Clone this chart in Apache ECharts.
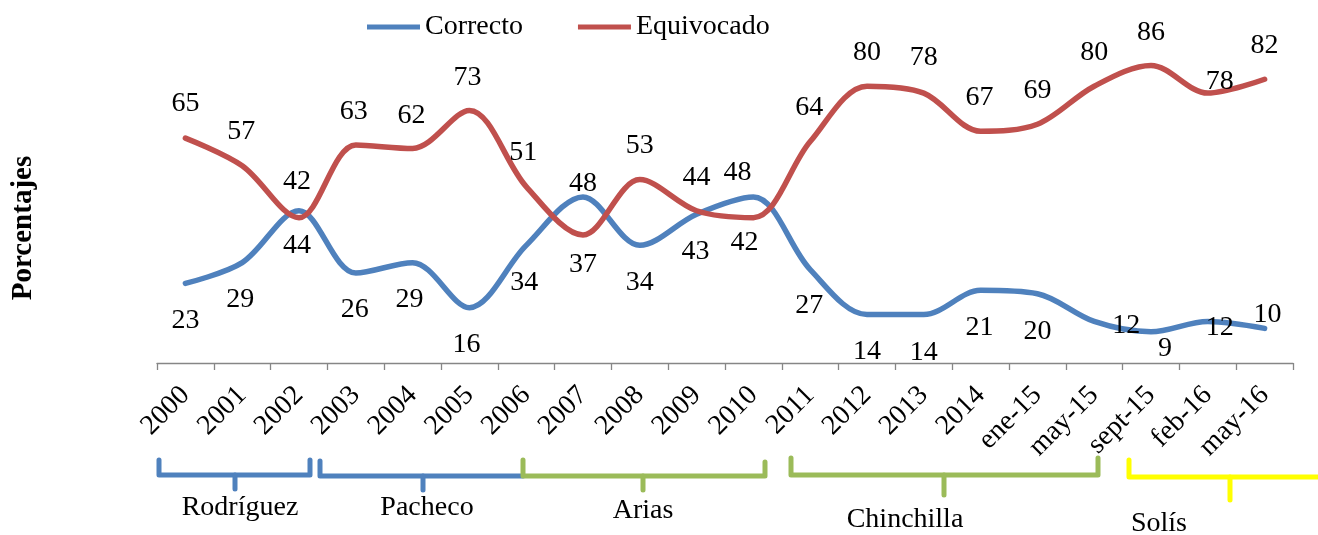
<!DOCTYPE html>
<html><head><meta charset="utf-8">
<script src="https://cdn.jsdelivr.net/npm/echarts@6/dist/echarts.min.js"></script>
<style>html,body{margin:0;padding:0;background:#fff}#c{width:1318px;height:535px}</style>
</head><body><div id="c"></div>
<script>
const categories = ['2000','2001','2002','2003','2004','2005','2006','2007','2008','2009','2010','2011','2012','2013','2014','ene-15','may-15','sept-15','feb-16','may-16'];
const correcto = [23,29,44,26,29,16,34,48,34,43,48,27,14,14,21,20,12,9,12,10];
const equivocado = [65,57,42,63,62,73,51,37,53,44,42,64,80,78,67,69,80,86,78,82];
// label placement (offset of label centre from the point, px)
const correctoLabelOffsets = [[0,37],[-2,37],[-2,35],[-1,37],[-3,37],[-3,37],[-2,37],[0,-13],[0,37],[-1,37],[-16,-24],[-1,36],[0,37],[0,38],[-1,37],[0,38],[32,4],[14,17],[12,6],[3,-14]];
const equivocadoLabelOffsets = [[0,-34],[-1,-34],[-2,-36],[-2,-33],[-1,-33],[-2,-33],[-3,-34],[0,30],[0,-34],[0,-33],[-9,25],[-1,-34],[0,-34],[0,-35],[-1,-34],[0,-34],[0,-34],[0,-33],[12,-11],[0,-34]];
const presidents = ['Rodríguez','Pacheco','Arias','Chinchilla','Solís'];

const FONT = '"Liberation Serif", "Times New Roman", serif';
const FS = 28;

function mkData(vals, offs){
  return vals.map((v,i)=>({value:v,label:{offset:offs[i]}}));
}

const BLUE = '#4F81BD', RED = '#C0504D', GREEN = '#9BBB59', YELLOW = '#FFFF00';

function bracket(points, color){
  return {type:'polyline', shape:{points}, style:{stroke:color, lineWidth:5, fill:null, lineJoin:'round', lineCap:'round'}, z:10};
}
function tick(x,y1,y2,color){
  return {type:'line', shape:{x1:x,y1:y1,x2:x,y2:y2}, style:{stroke:color, lineWidth:5, lineCap:'round'}, z:10};
}
function txt(s,x,y){
  return {type:'text', x:x, y:y, style:{text:s, fontFamily:FONT, fontSize:FS, fill:'#000', align:'center', verticalAlign:'middle'}, z:10};
}

const chart = echarts.init(document.getElementById('c'), null, {renderer:'canvas'});
chart.setOption({
  animation:false,
  backgroundColor:'#fff',
  textStyle:{fontFamily:FONT, fontSize:FS, color:'#000'},
  legend:{
    left:362, top:8,
    icon:'rect', itemWidth:53, itemHeight:5, itemGap:55,
    textStyle:{fontFamily:FONT, fontSize:FS, color:'#000'},
    data:['Correcto','Equivocado']
  },
  grid:{left:157, right:25, top:17, bottom:172, containLabel:false, outerBoundsMode:'none'},
  xAxis:{
    type:'category', data:categories, boundaryGap:true,
    axisLine:{lineStyle:{color:'#868686', width:1.3}},
    axisTick:{show:true, length:7, lineStyle:{color:'#868686', width:1.3}},
    axisLabel:{interval:0, rotate:45, margin:28, fontFamily:FONT, fontSize:FS, color:'#000'},
    splitLine:{show:false}
  },
  yAxis:{
    type:'value', min:0, max:100,
    show:false
  },
  graphic:[
    {type:'text', x:24, y:228, rotation:Math.PI/2, style:{text:'Porcentajes', fontFamily:FONT, fontWeight:'bold', fontSize:29, fill:'#000', align:'center', verticalAlign:'middle'}},
    bracket([[159,460],[159,475],[310,475],[310,460]], BLUE), tick(235,475,489,BLUE), txt(presidents[0],240,508),
    bracket([[320,461],[320,476],[523,476]], BLUE), tick(423,476,490,BLUE), txt(presidents[1],427,508),
    bracket([[523,460],[523,476],[765,476],[765,462]], GREEN), tick(643,476,490,GREEN), txt(presidents[2],643,511),
    bracket([[791,458],[791,475],[1098,475],[1098,458]], GREEN), tick(944,475,495,GREEN), txt(presidents[3],905,520),
    bracket([[1129,460],[1129,477],[1320,477]], YELLOW), tick(1230,477,500,YELLOW), txt(presidents[4],1159,524)
  ],
  series:[
    {
      name:'Correcto', type:'line', smooth:0.33, data:mkData(correcto, correctoLabelOffsets),
      color:BLUE, symbol:'circle', symbolSize:1, showSymbol:true,
      lineStyle:{color:BLUE, width:5.5, cap:'round'},
      itemStyle:{color:BLUE},
      label:{show:true, position:'inside', fontFamily:FONT, fontSize:FS, color:'#000'},
      emphasis:{disabled:true}
    },
    {
      name:'Equivocado', type:'line', smooth:0.33, data:mkData(equivocado, equivocadoLabelOffsets),
      color:RED, symbol:'circle', symbolSize:1, showSymbol:true,
      lineStyle:{color:RED, width:5.5, cap:'round'},
      itemStyle:{color:RED},
      label:{show:true, position:'inside', fontFamily:FONT, fontSize:FS, color:'#000'},
      emphasis:{disabled:true}
    }
  ]
});
</script>
</body></html>
